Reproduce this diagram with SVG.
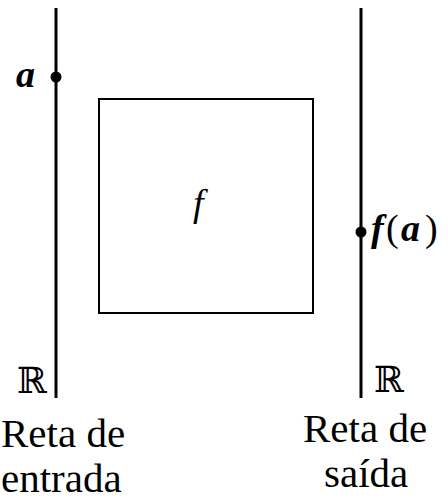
<svg xmlns="http://www.w3.org/2000/svg" width="448" height="500" viewBox="0 0 448 500">
<style>
.ln{stroke:#000;stroke-width:3;fill:none}
.bx{stroke:#000;stroke-width:2;fill:none}
text{font-family:'Liberation Serif','Times New Roman','DejaVu Serif',serif;fill:#000}
.i{font-style:italic}
.r{font-family:'DejaVu Serif','DejaVu Sans',serif}
</style>
<rect width="448" height="500" fill="#fff"/>
<g id="connectors">
<line class="ln" x1="56" y1="8" x2="56" y2="398"/>
<line class="ln" x1="361" y1="8" x2="361" y2="398"/>
</g>
<g id="input-line">
<circle cx="56" cy="77" r="5.5" fill="#000"/>
<text class="i" x="16" y="87" font-size="38" font-weight="bold">a</text>
<text class="r" x="17" y="393" font-size="36">ℝ</text>
<text x="1" y="447" font-size="41">Reta de</text>
<text x="1" y="492" font-size="41">entrada</text>
</g>
<g id="f">
<rect class="bx" x="99" y="99" width="214" height="214"/>
<text class="i" x="193" y="216" font-size="38">f</text>
</g>
<g id="output-line">
<circle cx="361" cy="232" r="5.5" fill="#000"/>
<text class="i" y="241" font-size="38" font-weight="bold"><tspan x="371">f</tspan><tspan x="386" font-style="normal" font-weight="normal">(</tspan><tspan x="401">a</tspan><tspan x="425" font-style="normal" font-weight="normal">)</tspan></text>
<text class="r" x="374" y="392" font-size="36">ℝ</text>
<text x="303" y="442" font-size="41">Reta de</text>
<text x="324" y="487" font-size="41">saída</text>
</g>
</svg>
